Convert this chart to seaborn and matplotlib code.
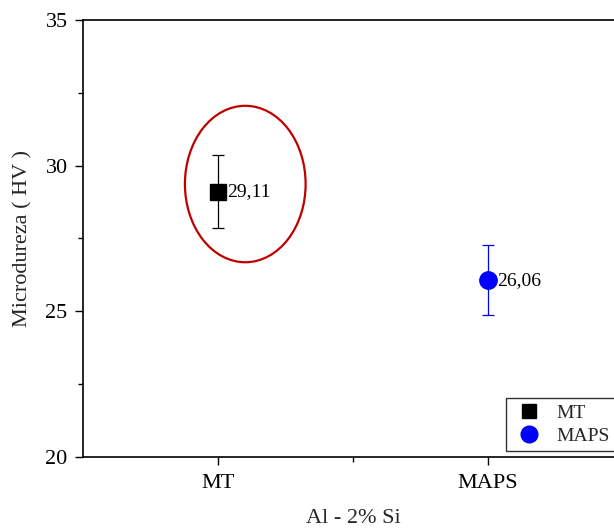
import matplotlib
matplotlib.use("Agg")
import matplotlib.pyplot as plt
import seaborn as sns
import pandas as pd
from matplotlib.patches import Ellipse
from matplotlib.lines import Line2D

categories = ["MT", "MAPS"]
values = [29.11, 26.06]
errors = [1.25, 1.2]
labels = ["29,11", "26,06"]
colors = ["#000000", "#0000ff"]
markers = ["s", "o"]

sns.set_theme(style="white")
plt.rcParams["font.family"] = ["Liberation Serif", "DejaVu Serif"]
plt.rcParams["mathtext.fontset"] = "stix"

df = pd.DataFrame({"cat": categories, "x": [1, 2], "val": values, "err": errors})

fig = plt.figure(figsize=(6.14, 5.30), dpi=100)
ax = fig.add_axes([83/614, 1-457/530, 540/614, 437/530])

for i, row in df.iterrows():
    ax.errorbar(row["x"], row["val"], yerr=row["err"], fmt="none",
                ecolor=colors[i], elinewidth=0.9, capsize=4, capthick=0.9, zorder=2)

sns.scatterplot(data=df, x="x", y="val", hue="cat", style="cat",
                palette=dict(zip(categories, colors)),
                markers=dict(zip(categories, markers)),
                s=[0]*2, ax=ax, legend=False, zorder=3)
ax.collections[-1].remove()
for i, row in df.iterrows():
    ax.plot(row["x"], row["val"], marker=markers[i], color=colors[i],
            markersize=11.5 if markers[i] == "s" else 12.5, linestyle="none", zorder=3)
    ax.text(row["x"] + 0.033, row["val"], labels[i], fontsize=14,
            ha="left", va="center", color="black", zorder=4)

ell = Ellipse((1.101, 29.37), width=0.447, height=5.37, fill=False,
              edgecolor="#c00000", linewidth=1.6, zorder=1)
ax.add_patch(ell)

ax.set_xlim(0.5, 2.5)
ax.set_ylim(20, 35)
ax.set_xticks([1, 2])
ax.set_xticklabels(categories)
ax.set_xticks([1.5], minor=True)
ax.set_yticks([20, 25, 30, 35])
ax.set_yticks([22.5, 27.5, 32.5], minor=True)
ax.tick_params(axis="both", which="major", direction="out", length=6, width=1,
               labelsize=16, color="black", labelcolor="black", bottom=True, left=True)
ax.tick_params(axis="both", which="minor", direction="out", length=3.5, width=1,
               color="black", bottom=True, left=True)
ax.tick_params(axis="x", pad=6)
ax.tick_params(axis="y", pad=5)
for s in ax.spines.values():
    s.set_color("black")
    s.set_linewidth(1.2)
ax.set_xlabel("Al - 2% Si", fontsize=16, labelpad=12)
ax.set_ylabel("Microdureza ( HV )", fontsize=16, labelpad=9)

handles = [Line2D([], [], marker="s", color="black", linestyle="none", markersize=10.5),
           Line2D([], [], marker="o", color="#0000ff", linestyle="none", markersize=12)]
leg = fig.legend(handles, categories, loc="lower left",
                 bbox_to_anchor=(506/614, 1-451/530), fontsize=14,
                 frameon=True, fancybox=False, edgecolor="black",
                 handletextpad=0.5, borderpad=0.3, labelspacing=0.3,
                 handlelength=1.8, borderaxespad=0)
leg.get_frame().set_linewidth(1.0)

fig.savefig("out.png", dpi=100)
